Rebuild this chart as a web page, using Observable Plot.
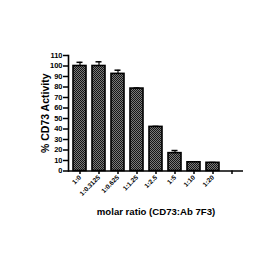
<!DOCTYPE html>
<html><head><meta charset="utf-8">
<script src="https://cdn.jsdelivr.net/npm/d3@7"></script>
<script src="https://cdn.jsdelivr.net/npm/@observablehq/plot@0.6"></script>
<style>body{margin:0;background:#fff}</style>
</head><body><div id="chart"></div>
<script>
const categories = ["1:0","1:0.3125","1:0.625","1:1.25","1:2.5","1:5","1:10","1:20",""];
const activity = [100, 100, 92.5, 78.5, 42, 17, 8.3, 7.8];
const errors = [3.5, 4, 3.5, 0.5, 0.5, 2.5, 0.4, 0.3];
const yTicks = [0,10,20,30,40,50,60,70,80,90,100,110];

const data = activity.map((v,i)=>({cat:categories[i], v, e:errors[i]}));

const chart = Plot.plot({
  width: 265, height: 265,
  marginLeft: 68, marginRight: 22, marginTop: 55, marginBottom: 94.5,
  style: {fontFamily: "Liberation Sans, Arial, sans-serif", fontWeight: "bold", background: "#fff", color: "#000"},
  x: {domain: categories, paddingInner: 0.33, paddingOuter: 0.18},
  y: {domain: [0,110]},
  marks: [
    Plot.ruleX(data, {x: "cat", y1: "v", y2: d => d.v + d.e, stroke: "#000", strokeWidth: 1.2}),
    Plot.tickY(data, {x: "cat", y: d => d.v + d.e, stroke: "#000", strokeWidth: 1.5, insetLeft: 3.5, insetRight: 3.5}),
    Plot.barY(data, {x: "cat", y: "v", fill: "url(#checker)", stroke: "#000", strokeWidth: 1.6}),
    Plot.axisY({ticks: yTicks, tickSize: 5, tickPadding: 1, fontSize: 7.5, fontWeight: "bold", strokeWidth: 1.5,
      label: "% CD73 Activity", labelAnchor: "center", labelArrow: "none", labelOffset: 27}),
    Plot.axisX({tickSize: 3.5, tickRotate: -45, tickPadding: 2, fontSize: 6.5, fontWeight: "bold", strokeWidth: 1.5, fill: "#000",
      label: "molar ratio (CD73:Ab 7F3)", labelAnchor: "center", labelArrow: "none", labelOffset: 44}),
    Plot.ruleY([0], {stroke: "#000", strokeWidth: 1.6}),
    Plot.frame({anchor: "left", stroke: "#000", strokeWidth: 1.6})
  ]
});

// checkerboard fill pattern
const ns = "http://www.w3.org/2000/svg";
const defs = document.createElementNS(ns, "defs");
defs.innerHTML = `<pattern id="checker" width="2" height="2" patternUnits="userSpaceOnUse">
  <rect width="2" height="2" fill="#7a7a7a"/>
  <rect width="1" height="1" fill="#151515"/>
  <rect x="1" y="1" width="1" height="1" fill="#151515"/>
</pattern>`;
chart.insertBefore(defs, chart.firstChild);
chart.querySelectorAll("[aria-label='y-axis label'] text").forEach(t => t.setAttribute("font-size", "10.5"));
chart.querySelectorAll("[aria-label='x-axis label'] text").forEach(t => t.setAttribute("font-size", "9.6"));
document.getElementById("chart").appendChild(chart);
</script></body></html>
